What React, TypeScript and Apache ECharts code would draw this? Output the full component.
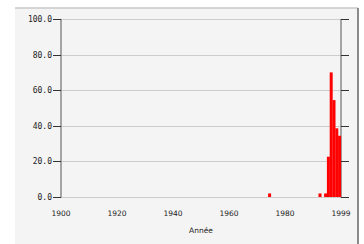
import React, { useEffect, useRef } from "react";
import * as echarts from "echarts";

const years = [1974, 1992, 1994, 1995, 1996, 1997, 1998, 1999];
const values = [2, 2, 2, 22.7, 70.2, 54.6, 38.7, 34.5];
const xTicks = [1900, 1920, 1940, 1960, 1980, 1999];
const yTicks = [0, 20, 40, 60, 80, 100];

export default function App() {
  const ref = useRef<HTMLDivElement>(null);
  useEffect(() => {
    document.body.style.margin = "0";
    const chart = echarts.init(ref.current!, null, { renderer: "svg" });
    const monoFont = "DejaVu Sans Mono";
    const sansFont = "DejaVu Sans";
    chart.setOption({
      animation: false,
      backgroundColor: "#ffffff",
      graphic: [
        { type: "rect", shape: { x: 15, y: 8, width: 343, height: 240 }, style: { fill: "#f4f4f4" }, z: -10 },
        { type: "line", shape: { x1: 15, y1: 8, x2: 358, y2: 8 }, style: { stroke: "#c8c8c8", lineWidth: 1.5 }, z: -9 },
        { type: "line", shape: { x1: 358, y1: 8, x2: 358, y2: 244 }, style: { stroke: "#8a8a8a", lineWidth: 2 }, z: -9 },
      ],
      grid: { left: 61, right: 23, top: 19.5, bottom: 47, containLabel: false },
      xAxis: {
        type: "value",
        min: 1900,
        max: 2000,
        interval: 20,
        name: "Année",
        nameLocation: "middle",
        nameGap: 29,
        nameTextStyle: { fontFamily: sansFont, fontSize: 7.5, color: "#222" },
        axisLine: { show: false },
        axisTick: { show: false },
        splitLine: { show: false },
        axisLabel: {
          margin: 12,
          fontFamily: sansFont,
          fontSize: 7.5,
          color: "#222",
          formatter: (v: number) => {
            const idx = yTicks.length - 1;
            const i = Math.round((v - 1900) / 20);
            return i >= 0 && i < xTicks.length ? String(xTicks[i]) : String(xTicks[idx]);
          },
        },
      },
      yAxis: [
        {
          type: "value",
          min: 0,
          max: 100,
          interval: 20,
          position: "left",
          axisLine: { show: true, lineStyle: { color: "#8a8a8a", width: 1.5 } },
          axisTick: { show: true, length: 8, lineStyle: { color: "#333", width: 1 } },
          splitLine: { show: true, lineStyle: { color: "#cccccc", width: 1 } },
          axisLabel: {
            margin: 9,
            fontFamily: monoFont,
            fontSize: 8,
            color: "#222",
            formatter: (v: number) => v.toFixed(1),
          },
        },
        {
          type: "value",
          min: 0,
          max: 100,
          interval: 20,
          position: "right",
          axisLine: { show: true, lineStyle: { color: "#8a8a8a", width: 1.5 } },
          axisTick: { show: true, length: 8, lineStyle: { color: "#333", width: 1 } },
          splitLine: { show: false },
          axisLabel: { show: false },
        },
      ],
      series: [
        {
          type: "bar",
          barWidth: 3,
          itemStyle: { color: "#ff0000" },
          data: years.map((y, i) => [y + 0.5, values[i]]),
        },
      ],
    });
    return () => chart.dispose();
  }, []);
  return <div ref={ref} style={{ position: "fixed", left: 0, top: 0, width: 364, height: 244 }} />;
}
